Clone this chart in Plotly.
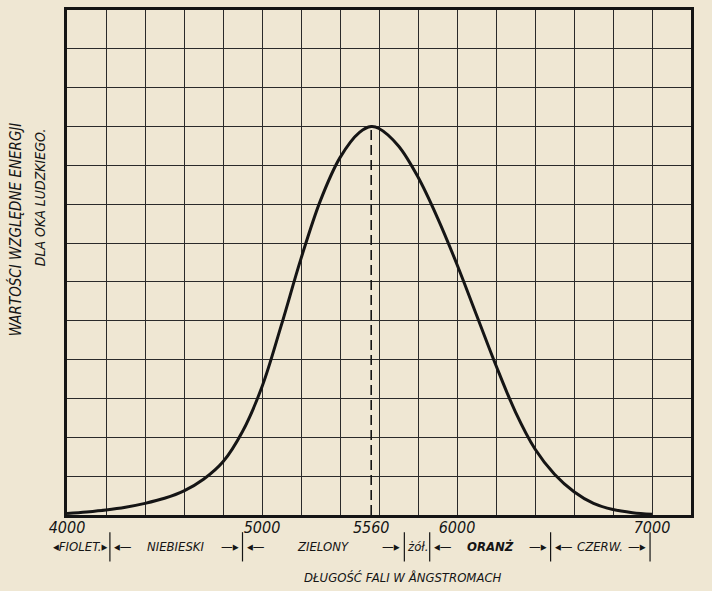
import plotly.graph_objects as go

# ---- data ----
wavelength_A = [4000, 4100, 4200, 4300, 4400, 4500, 4600, 4700, 4800, 4900,
                5000, 5100, 5200, 5300, 5400, 5500, 5560, 5600, 5700, 5800,
                5900, 6000, 6100, 6200, 6300, 6400, 6500, 6600, 6700, 6800,
                6900, 7000]
relative_energy = [0.004, 0.008, 0.013, 0.020, 0.030, 0.043, 0.062, 0.092, 0.137, 0.215,
                   0.330, 0.490, 0.660, 0.810, 0.920, 0.985, 1.000, 0.995, 0.950, 0.870,
                   0.765, 0.645, 0.515, 0.385, 0.265, 0.170, 0.105, 0.060, 0.030, 0.014,
                   0.006, 0.002]
peak_wavelength = 5560
peak_value = 1.0

x_tick_values = [4000, 5000, 5560, 6000, 7000]
x_tick_labels = ["4000", "5000", "5560", "6000", "7000"]

band_names = ["FIOLET.", "NIEBIESKI", "ZIELONY", "żół.", "ORANŻ", "CZERW."]
band_edges = [4000, 4220, 4900, 5730, 5860, 6480, 6990]

y_title_lines = ["WARTOŚCI WZGLĘDNE ENERGJI", "DLA OKA LUDZKIEGO."]
x_title = "DŁUGOŚĆ FALI W ÅNGSTROMACH"
unit_symbol = "Å"

# ---- styling ----
PAPER = "#efe7d3"
INK = "#151515"
FONT = "DejaVu Sans Condensed, Liberation Sans Narrow, Liberation Sans, sans-serif"

fig = go.Figure()

fig.add_trace(go.Scatter(
    x=wavelength_A, y=relative_energy, mode="lines",
    line=dict(color=INK, width=3, shape="spline", smoothing=1.0),
    hoverinfo="skip", showlegend=False))

fig.add_trace(go.Scatter(
    x=[peak_wavelength, peak_wavelength], y=[0, peak_value], mode="lines",
    xaxis="x2",
    line=dict(color=INK, width=1.6, dash="10px,5px"),
    hoverinfo="skip", showlegend=False))

fig.update_layout(
    width=712, height=591,
    margin=dict(l=67, r=21, t=7, b=76),
    paper_bgcolor=PAPER, plot_bgcolor=PAPER,
    font=dict(family=FONT, color=INK),
    xaxis=dict(range=[4000, 7200], dtick=200, tick0=4000,
               showgrid=True, gridcolor="#2a2a2a", gridwidth=1.3,
               showticklabels=False, ticks="", zeroline=False,
               showline=True, mirror=True, linecolor=INK, linewidth=2.6),
    xaxis2=dict(range=[4000, 7200], overlaying="x", anchor="y", side="bottom",
                tickmode="array", tickvals=x_tick_values, ticktext=x_tick_labels,
                showgrid=False, zeroline=False, showline=False, ticks="",
                ticklabelstandoff=1,
                tickfont=dict(family=FONT, size=16, style="italic", color=INK)),
    yaxis=dict(range=[0, 1.3], dtick=0.1, tick0=0,
               showgrid=True, gridcolor="#2a2a2a", gridwidth=1.3,
               showticklabels=False, ticks="", zeroline=False,
               showline=True, mirror=True, linecolor=INK, linewidth=2.6),
)

annotations = []
shapes = []
band_font = dict(family=FONT, size=13, style="italic", color=INK)
band_y = -0.062
for i, name in enumerate(band_names):
    lo, hi = band_edges[i], band_edges[i + 1]
    mid = (lo + hi) / 2
    f = dict(band_font)
    if name == "ORANŻ":
        f["weight"] = "bold"
    if i == 0:
        annotations.append(dict(x=hi, y=band_y, xref="x", yref="paper",
                                text="◂FIOLET.▸", showarrow=False,
                                xanchor="right", yanchor="middle", font=f, xshift=-1))
        continue
    if hi - lo < 200:
        annotations.append(dict(x=mid, y=band_y, xref="x", yref="paper",
                                text=name, showarrow=False,
                                xanchor="center", yanchor="middle", font=f))
        continue
    annotations.append(dict(x=lo, y=band_y, xref="x", yref="paper", text="◂—",
                            showarrow=False, xanchor="left", yanchor="middle",
                            font=band_font, xshift=2))
    annotations.append(dict(x=hi, y=band_y, xref="x", yref="paper", text="—▸",
                            showarrow=False, xanchor="right", yanchor="middle",
                            font=band_font, xshift=-2))
    annotations.append(dict(x=mid, y=band_y, xref="x", yref="paper", text=name,
                            showarrow=False, xanchor="center", yanchor="middle",
                            font=f))

for e in band_edges[1:]:
    shapes.append(dict(type="line", xref="x", yref="paper", x0=e, x1=e,
                       y0=-0.034, y1=-0.092, line=dict(color=INK, width=1.2)))

annotations.append(dict(x=7228, y=-0.034, xref="x", yref="paper", text=unit_symbol,
                        showarrow=False, xanchor="center", yanchor="middle",
                        font=dict(family=FONT, size=16, color=INK)))

annotations.append(dict(x=0.538, y=-0.124, xref="paper", yref="paper", text=x_title,
                        showarrow=False, xanchor="center", yanchor="middle",
                        font=dict(family=FONT, size=13, style="italic", color=INK)))

annotations.append(dict(x=-0.083, y=0.782, xref="paper", yref="paper",
                        text=y_title_lines[0], textangle=-90, showarrow=False,
                        xanchor="center", yanchor="top",
                        font=dict(family=FONT, size=15, style="italic", color=INK)))
annotations.append(dict(x=-0.043, y=0.77, xref="paper", yref="paper",
                        text=y_title_lines[1], textangle=-90, showarrow=False,
                        xanchor="center", yanchor="top",
                        font=dict(family=FONT, size=14, style="italic", color=INK)))

fig.update_layout(annotations=annotations, shapes=shapes)

fig.write_html(
    "out.html",
    config={"displayModeBar": False},
    post_script="document.body.style.margin='0';document.body.style.background='%s';" % PAPER,
)
